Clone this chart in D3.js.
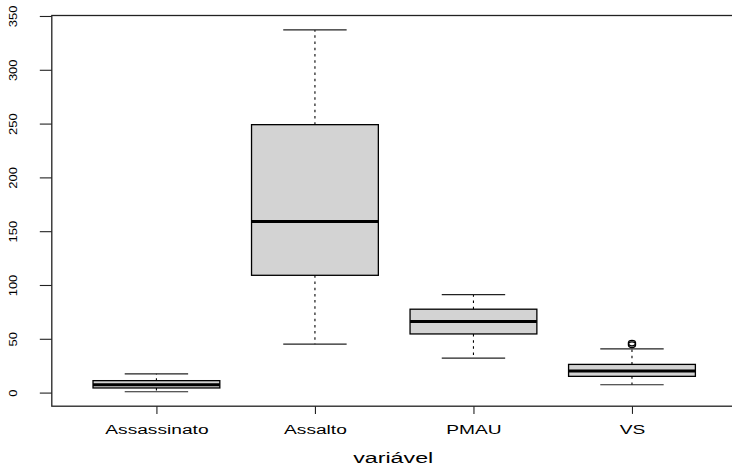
<!DOCTYPE html>
<html>
<head>
<meta charset="utf-8">
<script src="https://cdn.jsdelivr.net/npm/d3@7"></script>
<style>
  html, body { margin: 0; padding: 0; background: #fff; }
  svg { display: block; }
  text { font-family: "Liberation Sans", Arial, sans-serif; fill: #000; }
</style>
</head>
<body>
<svg id="chart" width="732" height="466"></svg>
<script>
// Data (USArrests-like boxplot statistics)
const categories = ["Assassinato", "Assalto", "PMAU", "VS"];
const whiskerLow  = [0.8, 45, 32, 7.3];
const q1          = [4.3, 109, 54.5, 15.1];
const medians     = [7.25, 159, 66, 20.1];
const q3          = [11.1, 249, 77.5, 26.2];
const whiskerHigh = [17.4, 337, 91, 40.6];
const outliers    = [[], [], [], [44.5, 46.0]];
const yTicks = [0, 50, 100, 150, 200, 250, 300, 350];
const xLabel = "variável";

const stats = categories.map((c, i) => ({
  name: c, pos: i + 1,
  lo: whiskerLow[i], q1: q1[i], med: medians[i], q3: q3[i], hi: whiskerHigh[i],
  out: outliers[i]
}));

const svg = d3.select("#chart");
const L = 51.8, R = 736.6, T = 15.5, B = 406.2;

const x = d3.scaleLinear().domain([0.34, 4.66]).range([L, R]);
const y = d3.scaleLinear().domain([-12.648, 350.448]).range([B, T]);

const boxHalf = 0.4, stapleHalf = 0.2;

const g = svg.append("g");

stats.forEach(d => {
  const cx = x(d.pos);
  // whiskers (dashed)
  g.append("line")
    .attr("x1", cx).attr("x2", cx)
    .attr("y1", y(d.q3)).attr("y2", y(d.hi))
    .attr("stroke", "#000").attr("stroke-width", 1.1)
    .attr("stroke-dasharray", "2.5,3.7");
  g.append("line")
    .attr("x1", cx).attr("x2", cx)
    .attr("y1", y(d.q1)).attr("y2", y(d.lo))
    .attr("stroke", "#000").attr("stroke-width", 1.1)
    .attr("stroke-dasharray", "2.5,3.7");
  // staples
  [d.hi, d.lo].forEach(v => {
    g.append("line")
      .attr("x1", x(d.pos - stapleHalf)).attr("x2", x(d.pos + stapleHalf))
      .attr("y1", y(v)).attr("y2", y(v))
      .attr("stroke", "#222").attr("stroke-width", 1.2);
  });
  // box
  g.append("rect")
    .attr("x", x(d.pos - boxHalf))
    .attr("width", x(d.pos + boxHalf) - x(d.pos - boxHalf))
    .attr("y", y(d.q3))
    .attr("height", y(d.q1) - y(d.q3))
    .attr("fill", "#d3d3d3")
    .attr("stroke", "#000").attr("stroke-width", 1.3);
  // median
  g.append("line")
    .attr("x1", x(d.pos - boxHalf)).attr("x2", x(d.pos + boxHalf))
    .attr("y1", y(d.med)).attr("y2", y(d.med))
    .attr("stroke", "#000").attr("stroke-width", 3);
  // outliers
  d.out.forEach(v => {
    g.append("ellipse")
      .attr("cx", cx).attr("cy", y(v)).attr("rx", 3.6).attr("ry", 2.8)
      .attr("fill", "none").attr("stroke", "#000").attr("stroke-width", 1.3);
  });
});

// frame
svg.append("rect")
  .attr("x", L).attr("y", T).attr("width", R - L).attr("height", B - T)
  .attr("fill", "none").attr("stroke", "#222").attr("stroke-width", 1.3);

// y axis
const yAxis = svg.append("g")
  .attr("transform", `translate(${L},0)`)
  .call(d3.axisLeft(y).tickValues(yTicks).tickSize(12).tickFormat(d3.format("d")));
yAxis.select(".domain").remove();
yAxis.selectAll(".tick line").attr("stroke", "#222").attr("stroke-width", 1.1);
yAxis.selectAll(".tick text")
  .attr("x", 0).attr("y", 16.5 - L).attr("dy", 0)
  .attr("text-anchor", "middle")
  .attr("transform", "rotate(-90) scale(1.3,1)")
  .style("font-size", "10px")
  .style("font-family", '"Liberation Sans", Arial, sans-serif');

// x axis
const xAxis = svg.append("g")
  .attr("transform", `translate(0,${B})`)
  .call(d3.axisBottom(x).tickValues(stats.map(d => d.pos)).tickSize(7.7)
    .tickFormat((v, i) => categories[i]));
xAxis.select(".domain").remove();
xAxis.selectAll(".tick line").attr("stroke", "#222").attr("stroke-width", 1.1);
xAxis.selectAll(".tick text")
  .attr("x", 0).attr("y", 434.5 - B).attr("dy", 0)
  .attr("text-anchor", "middle")
  .attr("transform", "scale(1.42,1)")
  .style("font-size", "13.5px")
  .style("font-family", '"Liberation Sans", Arial, sans-serif');

// x label
svg.append("text")
  .attr("transform", `translate(${(L + R) / 2 - 1},463) scale(1.55,1)`)
  .attr("text-anchor", "middle")
  .style("font-size", "15px")
  .text(xLabel);
</script>
</body>
</html>
